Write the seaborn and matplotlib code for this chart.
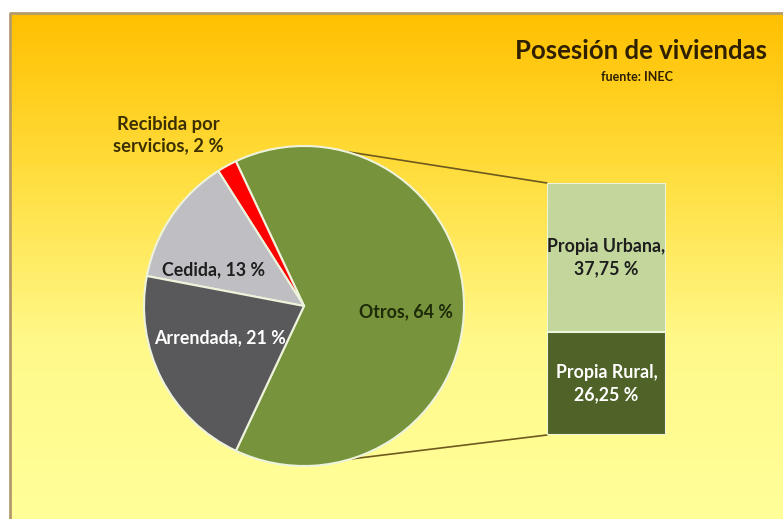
import numpy as np
import pandas as pd
import matplotlib.pyplot as plt
import matplotlib.colors as mcolors
import seaborn as sns

sns.set_theme(style="white")
plt.rcParams["font.family"] = ["Lato", "DejaVu Sans"]

# data
pie_labels = ["Otros", "Recibida por\nservicios", "Cedida", "Arrendada"]
pie_values = [64, 2, 13, 21]
bar_labels = ["Propia Rural", "Propia Urbana"]
bar_values = [26.25, 37.75]

pie_colors = ["#77933C", "#FF0000", "#BFBFC3", "#59595C"]
urbana_color = "#C3D69B"
rural_color = "#4F6228"

W, H = 783, 519
fig = plt.figure(figsize=(W / 100, H / 100), dpi=100)
ax = fig.add_axes([0, 0, 1, 1])

# background gradient (orange top -> light yellow bottom)
grad = mcolors.LinearSegmentedColormap.from_list(
    "bg", [(0.0, "#FFC000"), (0.3, "#FFDC3A"), (0.65, "#FFF98A"), (1.0, "#FFFF99")])
ys = np.linspace(0, 1, 256).reshape(-1, 1)
ax.imshow(ys, cmap=grad, aspect="auto", extent=(10, W, 0, H - 13), origin="upper", zorder=0)
ax.plot([10, 10, W], [0, H - 13, H - 13], color="#B49A6C", lw=2, zorder=1)

# pie
cx, cy, r = 304, 213, 160
start = -pie_values[0] / sum(pie_values) * 360 / 2
wedges, _ = ax.pie(pie_values, colors=pie_colors, startangle=start, counterclock=True,
                   center=(cx, cy), radius=r,
                   wedgeprops=dict(edgecolor="#EEF3DC", linewidth=1.5), frame=True)
for w in wedges:
    w.set_zorder(3)

# bar (Otros split)
bx0, bx1, by0, by1 = 547, 666, 84, 336
bax = fig.add_axes([bx0 / W, by0 / H, (bx1 - bx0) / W, (by1 - by0) / H])
df = pd.DataFrame({"grupo": ["Otros"], "total": [sum(bar_values)], "rural": [bar_values[0]]})
sns.barplot(data=df, x="grupo", y="total", color=urbana_color, saturation=1, width=1,
            edgecolor="#EEF3DC", linewidth=1.5, ax=bax)
sns.barplot(data=df, x="grupo", y="rural", color=rural_color, saturation=1, width=1,
            edgecolor="#EEF3DC", linewidth=1.5, ax=bax)
bax.set_xlim(-0.5, 0.5)
bax.set_ylim(0, sum(bar_values))
bax.axis("off")
fs = 12.8
bax.text(0, bar_values[0] + bar_values[1] / 2, f"{bar_labels[1]},\n{bar_values[1]:.2f} %".replace(".", ","),
         ha="center", va="center", fontsize=fs, fontweight="bold", color="#1E1E1E", linespacing=1.35)
bax.text(0, bar_values[0] / 2, f"{bar_labels[0]},\n{bar_values[0]:.2f} %".replace(".", ","),
         ha="center", va="center", fontsize=fs, fontweight="bold", color="white", linespacing=1.35)

# connector lines
for ang, (ex, ey) in [(75, (bx0, by1)), (-73, (bx0, by0))]:
    a = np.deg2rad(ang)
    ax.plot([cx + r * np.cos(a), ex], [cy + r * np.sin(a), ey], color="#6E5A1E", lw=1.2, zorder=2)

# pie labels
lab_style = dict(ha="center", va="center", fontweight="bold")
ax.text(406, H - 312, f"{pie_labels[0]}, {pie_values[0]} %", color="#1E2A08", zorder=5,
        fontsize=fs, **lab_style)
ax.text(168, H - 135, f"{pie_labels[1]}, {pie_values[1]} %", color="#3D3000", zorder=5,
        fontsize=13.2, linespacing=1.3, **lab_style)
ax.text(214, H - 270, f"{pie_labels[2]}, {pie_values[2]} %", color="#1E1E1E", zorder=5,
        fontsize=fs, **lab_style)
ax.text(220, H - 338, f"{pie_labels[3]}, {pie_values[3]} %", color="white", zorder=5,
        fontsize=fs, **lab_style)

# title
ax.text(641, H - 51, "Posesión de viviendas", ha="center", va="center", fontsize=18.5,
        fontweight="bold", color="#2E2000", zorder=5)
ax.text(637, H - 77, "fuente: INEC", ha="center", va="center", fontsize=9,
        fontweight="bold", color="#2E2000", zorder=5)

ax.set_xlim(0, W)
ax.set_ylim(0, H)
ax.set_aspect("auto")
ax.axis("off")

fig.savefig("out.png", dpi=100, facecolor="white")
